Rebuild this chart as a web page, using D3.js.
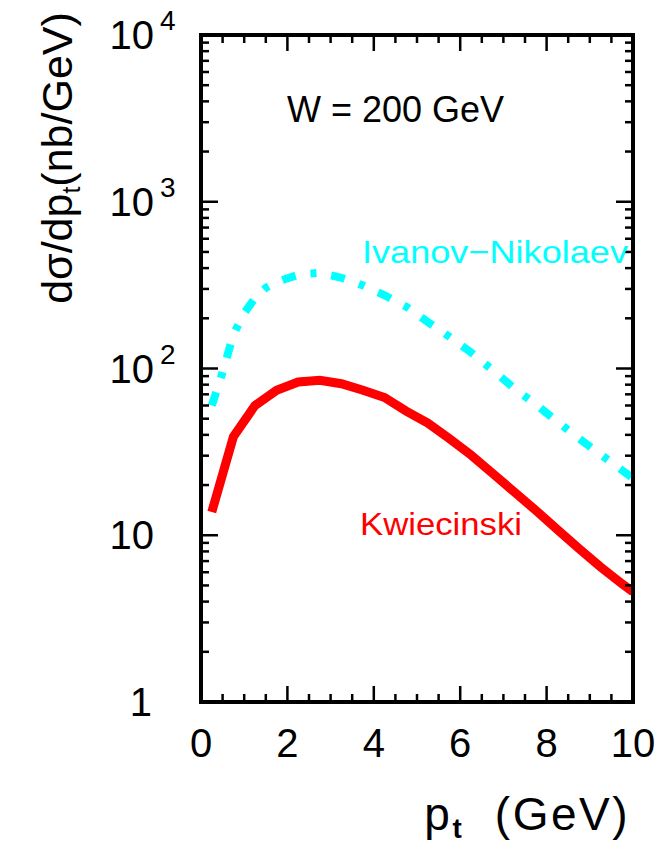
<!DOCTYPE html>
<html>
<head>
<meta charset="utf-8">
<script src="https://cdn.jsdelivr.net/npm/d3@7"></script>
<style>
  html, body { margin: 0; padding: 0; background: #fff; }
  svg text { font-family: "Liberation Sans", Arial, sans-serif; }
</style>
</head>
<body>
<svg id="chart" width="660" height="845"></svg>
<script>
// ---- data ----
const ptKwiecinski = [0.25, 0.75, 1.25, 1.75, 2.25, 2.75, 3.25, 3.75, 4.25, 4.75, 5.25, 5.75, 6.25, 6.75, 7.25, 7.75, 8.25, 8.75, 9.25, 9.75, 10];
const kwiecinski   = [13.8, 39, 60, 74, 83, 85, 81, 74, 67, 55.5, 47, 38, 30.3, 23.5, 18.2, 14.1, 10.8, 8.3, 6.45, 5.1, 4.58];
const ptIvanov     = [0.25, 0.5, 0.75, 1.0, 1.25, 1.5, 1.75, 2.25, 2.75, 3.25, 3.75, 4.25, 4.75, 5.25, 5.75, 6.25, 6.75, 7.25, 7.75, 8.25, 8.75, 9.25, 9.75, 10];
const ivanov       = [60, 95, 160, 215, 265, 305, 330, 365, 375, 350, 315, 275, 235, 190, 155, 125, 98, 76, 61, 48, 38, 30.5, 24.5, 22];
const xTicks = [0, 2, 4, 6, 8, 10];
const yTicks = [1, 10, 100, 1000, 10000];
const yTickLabels = [["1", ""], ["10", ""], ["10", "2"], ["10", "3"], ["10", "4"]];
const seriesLabels = ["Kwiecinski", "Ivanov\u2212Nikolaev"];
const annotation = "W = 200 GeV";

// ---- layout ----
const svg = d3.select("#chart");
const L = 201, R = 633, T = 35, B = 702;
const x = d3.scaleLinear().domain([0, 10]).range([L, R]);
const y = d3.scaleLog().domain([1, 10000]).range([B, T]);

// curves (clipped to frame)
svg.append("clipPath").attr("id", "clip").append("rect")
  .attr("x", L).attr("y", T).attr("width", R - L).attr("height", B - T);
const line = d3.line().x(d => x(d[0])).y(d => y(d[1]));
const gCurves = svg.append("g").attr("clip-path", "url(#clip)");
gCurves.append("path")
  .attr("d", line(ptIvanov.map((p, i) => [p, ivanov[i]])))
  .attr("fill", "none").attr("stroke", "#00ffff").attr("stroke-width", 8)
  .attr("stroke-dasharray", "14,15,6,15");
gCurves.append("path")
  .attr("d", line(ptKwiecinski.map((p, i) => [p, kwiecinski[i]])))
  .attr("fill", "none").attr("stroke", "#ff0000").attr("stroke-width", 9)
  .attr("stroke-linejoin", "miter");

// ticks
const gT = svg.append("g").attr("stroke", "#000").attr("stroke-width", 2.5);
const xMinor = d3.range(0, 10.001, 0.5);
xMinor.forEach(v => {
  const major = Math.abs(v / 2 - Math.round(v / 2)) < 1e-6;
  const len = major ? 16 : 8;
  gT.append("line").attr("x1", x(v)).attr("x2", x(v)).attr("y1", B).attr("y2", B - len);
  gT.append("line").attr("x1", x(v)).attr("x2", x(v)).attr("y1", T).attr("y2", T + len);
});
for (let e = 0; e < 4; e++) {
  for (let m = 1; m <= 9; m++) {
    const v = m * Math.pow(10, e);
    const len = m === 1 ? 17 : 8;
    gT.append("line").attr("x1", L).attr("x2", L + len).attr("y1", y(v)).attr("y2", y(v));
    gT.append("line").attr("x1", R).attr("x2", R - len).attr("y1", y(v)).attr("y2", y(v));
  }
}

// frame
svg.append("rect").attr("x", L).attr("y", T).attr("width", R - L).attr("height", B - T)
  .attr("fill", "none").attr("stroke", "#000").attr("stroke-width", 4);

// x tick labels
svg.append("g").selectAll("text").data(xTicks).join("text")
  .attr("x", d => x(d)).attr("y", 757)
  .attr("text-anchor", "middle").attr("font-size", 40).attr("fill", "#000")
  .text(d => d);

// y tick labels
const gY = svg.append("g");
yTicks.forEach((v, i) => {
  const [base, sup] = yTickLabels[i];
  const t = gY.append("text").attr("y", y(v) + 14).attr("font-size", 40).attr("fill", "#000");
  if (sup) {
    t.attr("x", 154).attr("text-anchor", "end").text(base);
    gY.append("text").attr("x", 160).attr("y", y(v) - 5).attr("font-size", 28).attr("fill", "#000").text(sup);
  } else if (base === "10") {
    t.attr("x", 154).attr("text-anchor", "end").text(base);
  } else {
    t.attr("x", 152).attr("text-anchor", "end").text(base);
  }
});

// axis titles
const yt = svg.append("text")
  .attr("transform", "translate(72,158) rotate(-90)")
  .attr("text-anchor", "middle").attr("font-size", 43).attr("fill", "#000");
yt.append("tspan").text("d\u03c3/dp");
yt.append("tspan").attr("font-size", 25).attr("dy", 8).text("t");
yt.append("tspan").attr("dy", -8).text("(nb/GeV)");

const xt = svg.append("text")
  .attr("x", 630).attr("y", 830)
  .attr("text-anchor", "end").attr("font-size", 46).attr("fill", "#000")
  .attr("letter-spacing", 2.5).style("white-space", "pre");
xt.append("tspan").text("p");
xt.append("tspan").attr("font-size", 28).attr("font-weight", "bold").attr("dy", 8).text("t");
xt.append("tspan").attr("dy", -8).text("  (GeV)");

// annotations
svg.append("text").attr("x", 287).attr("y", 122).attr("font-size", 36).attr("fill", "#000").text(annotation);
svg.append("text").attr("x", 362).attr("y", 263).attr("font-size", 32)
  .attr("textLength", 266).attr("lengthAdjust", "spacingAndGlyphs")
  .attr("fill", "#00ffff").text(seriesLabels[1]);
svg.append("text").attr("x", 360).attr("y", 535).attr("font-size", 32)
  .attr("textLength", 162).attr("lengthAdjust", "spacingAndGlyphs")
  .attr("fill", "#ff0000").text(seriesLabels[0]);
</script>
</body>
</html>
